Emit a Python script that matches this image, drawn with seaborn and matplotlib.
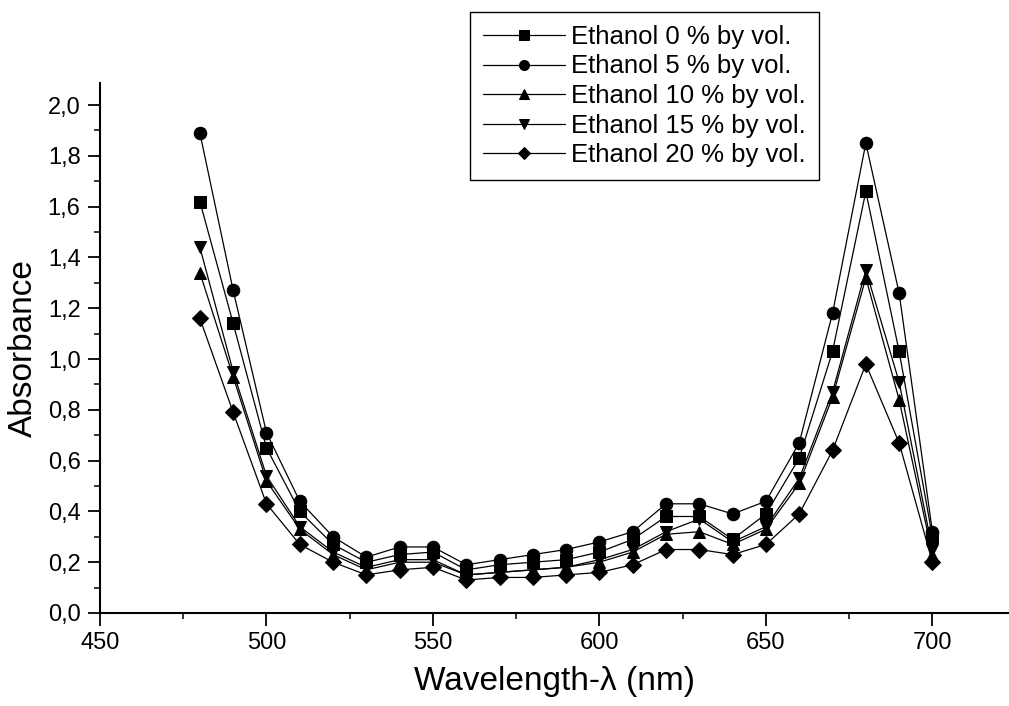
import numpy as np
import pandas as pd
import seaborn as sns
import matplotlib
matplotlib.use("Agg")
import matplotlib.pyplot as plt
from matplotlib.ticker import MultipleLocator, FuncFormatter

wavelength = [480, 490, 500, 510, 520, 530, 540, 550, 560, 570, 580, 590,
              600, 610, 620, 630, 640, 650, 660, 670, 680, 690, 700]

eth_0 = [1.62, 1.14, 0.65, 0.40, 0.27, 0.20, 0.23, 0.24, 0.17, 0.19, 0.20, 0.21,
         0.24, 0.29, 0.38, 0.38, 0.29, 0.39, 0.61, 1.03, 1.66, 1.03, 0.30]
eth_5 = [1.89, 1.27, 0.71, 0.44, 0.30, 0.22, 0.26, 0.26, 0.19, 0.21, 0.23, 0.25,
         0.28, 0.32, 0.43, 0.43, 0.39, 0.44, 0.67, 1.18, 1.85, 1.26, 0.32]
eth_10 = [1.34, 0.93, 0.52, 0.33, 0.23, 0.17, 0.20, 0.20, 0.15, 0.16, 0.17, 0.18,
          0.20, 0.24, 0.31, 0.32, 0.27, 0.33, 0.51, 0.85, 1.32, 0.84, 0.23]
eth_15 = [1.44, 0.95, 0.54, 0.34, 0.24, 0.18, 0.21, 0.21, 0.15, 0.16, 0.17, 0.18,
          0.21, 0.25, 0.32, 0.37, 0.28, 0.34, 0.53, 0.87, 1.35, 0.91, 0.25]
eth_20 = [1.16, 0.79, 0.43, 0.27, 0.20, 0.15, 0.17, 0.18, 0.13, 0.14, 0.14, 0.15,
          0.16, 0.19, 0.25, 0.25, 0.23, 0.27, 0.39, 0.64, 0.98, 0.67, 0.20]

labels = ["Ethanol 0 % by vol.", "Ethanol 5 % by vol.", "Ethanol 10 % by vol.",
          "Ethanol 15 % by vol.", "Ethanol 20 % by vol."]
series = [eth_0, eth_5, eth_10, eth_15, eth_20]
markers = ["s", "o", "^", "v", "D"]

sns.set_style("ticks")
plt.rcParams["font.family"] = ["Liberation Sans", "DejaVu Sans"]
plt.rcParams["text.color"] = "black"
plt.rcParams["axes.labelcolor"] = "black"

fig = plt.figure(figsize=(10.09, 7.06), dpi=100)
ax = fig.add_axes([100 / 1009, 93 / 706, 909 / 1009, 530 / 706])

for lab, vals, mk in zip(labels, series, markers):
    df = pd.DataFrame({"Wavelength": wavelength, "Absorbance": vals})
    msize = 8 if mk == "D" else 9
    sns.lineplot(data=df, x="Wavelength", y="Absorbance", ax=ax, color="black",
                 linewidth=0.9, marker=mk, markersize=msize, markeredgecolor="black",
                 markerfacecolor="black", label=lab)

ax.set_xlim(450, 723)
ax.set_ylim(0, 2.087)
ax.xaxis.set_major_locator(MultipleLocator(50))
ax.xaxis.set_minor_locator(MultipleLocator(25))
ax.yaxis.set_major_locator(MultipleLocator(0.2))
ax.yaxis.set_minor_locator(MultipleLocator(0.1))
ax.yaxis.set_major_formatter(FuncFormatter(lambda v, p: f"{v:.1f}".replace(".", ",")))

ax.tick_params(which="major", direction="out", length=9, width=1.3, labelsize=17,
               colors="black", pad=5)
ax.tick_params(which="minor", direction="out", length=4, width=1.1, colors="black")

sns.despine(ax=ax)
for s in ["left", "bottom"]:
    ax.spines[s].set_linewidth(1.5)
    ax.spines[s].set_color("black")

ax.set_xlabel("Wavelength-λ (nm)", fontsize=24, labelpad=8)
ax.set_ylabel("Absorbance", fontsize=24, labelpad=6)

leg = ax.legend(loc="upper left", bbox_to_anchor=(470 / 1009, 1 - 12 / 706),
                bbox_transform=fig.transFigure, borderaxespad=0, fontsize=18.5,
                handlelength=3.2, handletextpad=0.25, labelspacing=0.22,
                fancybox=False, edgecolor="black", framealpha=1, borderpad=0.5,
                markerscale=0.8)
leg.get_frame().set_linewidth(1.0)

fig.savefig("out.png", dpi=100)
